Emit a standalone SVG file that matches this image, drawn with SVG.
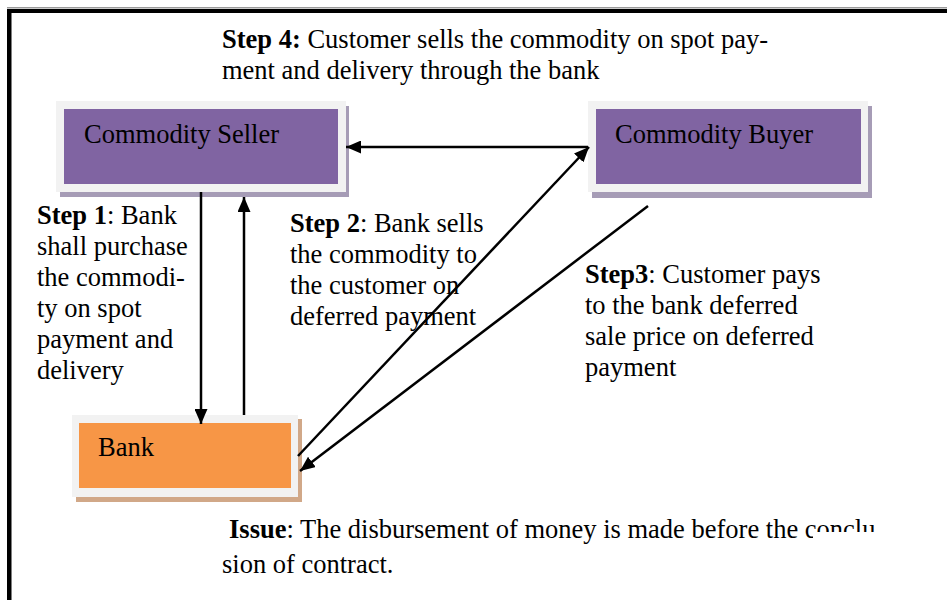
<svg xmlns="http://www.w3.org/2000/svg" width="947" height="600" viewBox="0 0 947 600">
  <defs>
    <marker id="ah" markerUnits="userSpaceOnUse" markerWidth="15" markerHeight="13" refX="15" refY="6.5" orient="auto">
      <path d="M0,0 L15,6.5 L0,13 z" fill="#000"/>
    </marker>
  </defs>
  <style>
    text { font-family: "Liberation Serif", "Times New Roman", serif; font-size: 26.5px; fill: #000; }
    .b { font-weight: bold; }
    .outer { fill: #f2f2f2; }
    .purple { fill: #8064a2; }
    .pshadow { fill: #a69cb6; }
    .orange { fill: #f79646; }
    .oshadow { fill: #d1a888; }
    .conn line { stroke: #000; stroke-width: 2.5; fill: none; marker-end: url(#ah); }
  </style>
  <rect x="0" y="0" width="947" height="600" fill="#fff"/>
  <g id="frame">
    <rect x="7" y="7" width="940" height="1.5" fill="#9a9a9a"/>
    <rect x="7" y="9" width="940" height="4" fill="#000"/>
    <rect x="7" y="9" width="4.5" height="591" fill="#000"/>
  </g>

  <g id="seller">
    <rect class="pshadow" x="60" y="106" width="289" height="91"/>
    <rect class="outer" x="56" y="101" width="290" height="91"/>
    <rect class="purple" x="64" y="109" width="274" height="75"/>
    <text x="84" y="143">Commodity Seller</text>
  </g>

  <g id="buyer">
    <rect class="pshadow" x="592" y="106" width="280" height="92"/>
    <rect class="outer" x="588" y="101" width="280" height="91"/>
    <rect class="purple" x="596" y="109" width="265" height="75"/>
    <text x="615" y="143">Commodity Buyer</text>
  </g>

  <g id="bank">
    <rect class="oshadow" x="76" y="419" width="226" height="83"/>
    <rect class="outer" x="72" y="415" width="226" height="82"/>
    <rect class="orange" x="79" y="423" width="212" height="65"/>
    <text x="98" y="456">Bank</text>
  </g>

  <g id="connectors" class="conn">
    <line x1="201" y1="192" x2="201" y2="424"/>
    <line x1="244" y1="415" x2="244" y2="197"/>
    <line x1="588" y1="147" x2="346" y2="147"/>
    <line x1="298" y1="456" x2="589" y2="147"/>
    <line x1="648" y1="206" x2="300" y2="471"/>
  </g>

  <g id="step4">
    <text x="222" y="48"><tspan class="b">Step 4:</tspan> Customer sells the commodity on spot pay-</text>
    <text x="222" y="79">ment and delivery through the bank</text>
  </g>

  <g id="step1">
    <text x="37" y="224"><tspan class="b">Step 1</tspan>: Bank</text>
    <text x="37" y="255">shall purchase</text>
    <text x="37" y="286">the commodi-</text>
    <text x="37" y="317">ty on spot</text>
    <text x="37" y="348">payment and</text>
    <text x="37" y="379">delivery</text>
  </g>

  <g id="step2">
    <text x="290" y="232"><tspan class="b">Step 2</tspan>: Bank sells</text>
    <text x="290" y="263">the commodity to</text>
    <text x="290" y="294">the customer on</text>
    <text x="290" y="325">deferred payment</text>
  </g>

  <g id="step3">
    <text x="585" y="283"><tspan class="b">Step3</tspan>: Customer pays</text>
    <text x="585" y="314">to the bank deferred</text>
    <text x="585" y="345">sale price on deferred</text>
    <text x="585" y="376">payment</text>
  </g>

  <g id="issue">
    <text x="229" y="538"><tspan class="b">Issue</tspan>: The disbursement of money is made before the conclu</text>
    <rect x="813" y="532" width="90" height="16" fill="#fff"/>
    <text x="222" y="573">sion of contract.</text>
  </g>
</svg>
